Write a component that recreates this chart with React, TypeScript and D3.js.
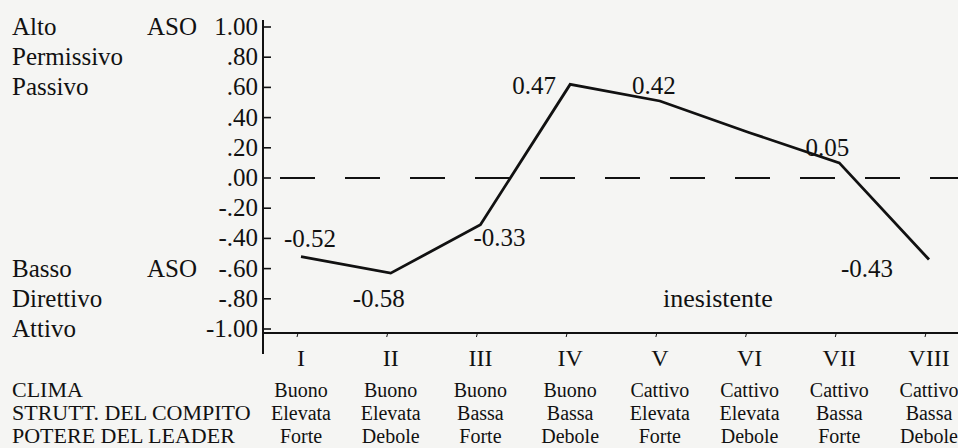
import React from "react";
import * as d3 from "d3";

const categories = ["I", "II", "III", "IV", "V", "VI", "VII", "VIII"];
const clima = ["Buono", "Buono", "Buono", "Buono", "Cattivo", "Cattivo", "Cattivo", "Cattivo"];
const struttura = ["Elevata", "Elevata", "Bassa", "Bassa", "Elevata", "Elevata", "Bassa", "Bassa"];
const potere = ["Forte", "Debole", "Forte", "Debole", "Forte", "Debole", "Forte", "Debole"];
const values = [-0.52, -0.63, -0.31, 0.62, 0.51, 0.3, 0.1, -0.54];
const valueLabels = ["-0.52", "-0.58", "-0.33", "0.47", "0.42", "", "0.05", "-0.43"];
const yTicks = [1, 0.8, 0.6, 0.4, 0.2, 0, -0.2, -0.4, -0.6, -0.8, -1];
const yTickLabels = ["1.00", ".80", ".60", ".40", ".20", ".00", "-.20", "-.40", "-.60", "-.80", "-1.00"];
const highLabels = ["Alto", "Permissivo", "Passivo"];
const lowLabels = ["Basso", "Direttivo", "Attivo"];
const asoLabel = "ASO";
const rowHeaders = ["CLIMA", "STRUTT. DEL COMPITO", "POTERE DEL LEADER"];
const annotation = "inesistente";

const W = 958;
const H = 448;
const FONT = "'Liberation Serif', 'DejaVu Serif', serif";
const INK = "#111";

// label offsets relative to each point (layout only)
const labelOffsets: [number, number][] = [
  [9, -19], [-12, 25], [19, 12], [-36, 1], [-6, -16], [0, 0], [-12, -16], [-62, 8],
];

export default function App() {
  const y = d3.scaleLinear().domain([-1, 1]).range([329, 27]);
  const x = d3.scalePoint<string>().domain(categories).range([301, 929]);
  const axisX = 263;
  const baseY = y(-1) + 4;

  const line = d3
    .line<number>()
    .x((_, i) => x(categories[i]) as number)
    .y((d) => y(d));

  const rows = [clima, struttura, potere];
  const rowBase = [397, 420, 443];

  return (
    <div style={{ position: "absolute", left: 0, top: 0 }}>
      <svg width={W} height={H} style={{ display: "block" }} fontFamily={FONT}>
        <rect x={0} y={0} width={W} height={H} fill="#f5f5f3" />

        {/* Y axis */}
        <line x1={axisX} x2={axisX} y1={20} y2={354} stroke={INK} strokeWidth={2} />
        {yTicks.map((t, i) => (
          <g key={"t" + i}>
            <line x1={axisX} x2={axisX + 8} y1={y(t)} y2={y(t)} stroke={INK} strokeWidth={1.6} />
            <text x={258} y={y(t) + 8} textAnchor="end" fontSize={25} fill={INK}>
              {yTickLabels[i]}
            </text>
          </g>
        ))}

        {/* left scale descriptors */}
        {highLabels.map((s, i) => (
          <text key={"h" + i} x={12} y={y(yTicks[i]) + 8} fontSize={25} fill={INK}>
            {s}
          </text>
        ))}
        {lowLabels.map((s, i) => (
          <text key={"l" + i} x={12} y={y(yTicks[8 + i]) + 8} fontSize={25} fill={INK}>
            {s}
          </text>
        ))}
        <text x={147} y={y(yTicks[0]) + 8} fontSize={25} fill={INK}>{asoLabel}</text>
        <text x={147} y={y(yTicks[8]) + 8} fontSize={25} fill={INK}>{asoLabel}</text>

        {/* bottom baseline */}
        <line x1={axisX} x2={W} y1={baseY} y2={baseY} stroke={INK} strokeWidth={2} />
        {categories.map((c) => (
          <line
            key={"bt" + c}
            x1={(x(c) as number) - 3}
            x2={(x(c) as number) - 4}
            y1={baseY}
            y2={baseY + 4}
            stroke={INK}
            strokeWidth={1}
          />
        ))}

        {/* zero dashed line */}
        <line
          x1={280}
          x2={W}
          y1={y(0)}
          y2={y(0)}
          stroke={INK}
          strokeWidth={2.2}
          strokeDasharray="35 30"
        />

        {/* data line */}
        <path d={line(values) || ""} fill="none" stroke={INK} strokeWidth={2.8} strokeLinejoin="miter" />

        {/* value labels */}
        {values.map((v, i) =>
          valueLabels[i] ? (
            <text
              key={"v" + i}
              x={(x(categories[i]) as number) + labelOffsets[i][0]}
              y={y(v) + labelOffsets[i][1] + 9}
              textAnchor="middle"
              fontSize={25}
              fill={INK}
            >
              {valueLabels[i]}
            </text>
          ) : null
        )}

        <text x={718} y={307} textAnchor="middle" fontSize={26} fill={INK}>
          {annotation}
        </text>

        {/* category numerals */}
        {categories.map((c) => (
          <text key={"c" + c} x={x(c) as number} y={366} textAnchor="middle" fontSize={24} fill={INK}>
            {c}
          </text>
        ))}

        {/* row headers and category descriptors */}
        {rowHeaders.map((h, r) => (
          <text key={"rh" + r} x={12} y={rowBase[r]} fontSize={22} fill={INK}>
            {h}
          </text>
        ))}
        {rows.map((arr, r) =>
          arr.map((s, i) => (
            <text
              key={"r" + r + "-" + i}
              x={x(categories[i]) as number}
              y={rowBase[r]}
              textAnchor="middle"
              fontSize={20}
              fill={INK}
            >
              {s}
            </text>
          ))
        )}
      </svg>
    </div>
  );
}
